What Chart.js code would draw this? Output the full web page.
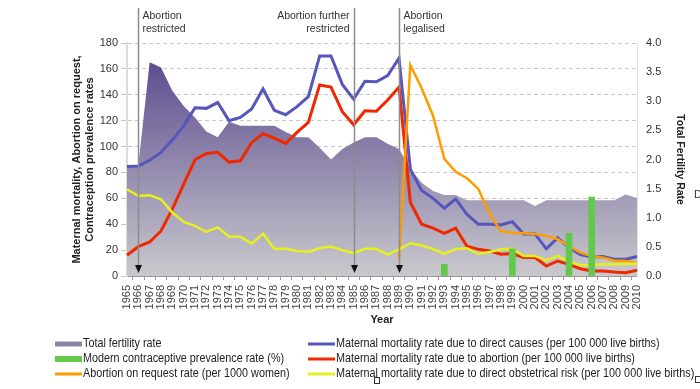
<!DOCTYPE html>
<html>
<head>
<meta charset="utf-8">
<script src="https://cdn.jsdelivr.net/npm/chart.js@4.4.0/dist/chart.umd.min.js"></script>
<style>
  body { margin: 0; background: #fff; }
  #wrap { width: 700px; height: 389px; }
</style>
</head>
<body>
<div id="wrap"><canvas id="chart" width="700" height="389"></canvas></div>
<script>
const years = ["1965","1966","1967","1968","1969","1970","1971","1972","1973","1974",
  "1975","1976","1977","1978","1979","1980","1981","1982","1983","1984",
  "1985","1986","1987","1988","1989","1990","1991","1992","1993","1994",
  "1995","1996","1997","1998","1999","2000","2001","2002","2003","2004",
  "2005","2006","2007","2008","2009","2010"];

// total fertility rate (right axis)
const fertilityRate = [1.88, 1.9, 3.67, 3.58, 3.18, 2.92, 2.72, 2.48, 2.38, 2.65,
  2.58, 2.58, 2.58, 2.58, 2.47, 2.38, 2.38, 2.2, 2.0, 2.18,
  2.29, 2.38, 2.38, 2.27, 2.18, 1.84, 1.6, 1.46, 1.39, 1.39,
  1.3, 1.3, 1.3, 1.3, 1.3, 1.3, 1.2, 1.3, 1.3, 1.3,
  1.3, 1.3, 1.3, 1.3, 1.4, 1.34];

const contraceptiveRate = [null, null, null, null, null, null, null, null, null, null,
  null, null, null, null, null, null, null, null, null, null,
  null, null, null, null, null, null, null, null, 9, null,
  null, null, null, null, 21, null, null, null, null, 33,
  null, 61, null, null, null, null];

const abortionRequestRate = [null, null, null, null, null, null, null, null, null, null,
  null, null, null, null, null, null, null, null, null, null,
  null, null, null, null, 13, 163, 145, 124, 90.5, 80.5,
  75.5, 67.3, 48, 34.5, 33.5, 33, 32.5, 31, 28.4, 23,
  18, 15.5, 14.2, 12, 11.6, 10.3];

const mmrDirect = [84.5, 85, 89.5, 95.5, 105, 116, 130, 129.5, 134, 120,
  122.5, 129, 144.5, 128, 124.6, 130.8, 138.5, 170, 170, 148,
  136.7, 150.5, 150, 154.8, 168.3, 82.6, 66, 60, 52.4, 59.5,
  47.5, 40, 40, 39.5, 42, 32.5, 32.5, 21, 29.5, 22,
  16.5, 14.7, 15, 13, 13, 15];

const mmrAbortion = [16, 22.7, 26.3, 34.8, 51.6, 71, 89.8, 94.7, 95.5, 88,
  89, 103, 110, 106.5, 102.4, 111, 118.7, 147.6, 146, 127,
  116.8, 127.7, 127.3, 136, 146, 57, 40, 37, 33, 37,
  23, 20.6, 19.3, 16.8, 17.3, 14.2, 14.2, 7.7, 11.6, 9,
  5.6, 3.9, 3.9, 3, 2.5, 4.4];

const mmrObstetric = [67, 61.8, 62.4, 59.3, 49, 41.8, 38.7, 34, 37.6, 30.5,
  30.4, 25, 32.7, 21, 21, 19.3, 18.8, 21.4, 22.7, 20,
  17.6, 21, 21, 16.5, 20.6, 25.3, 23.6, 20.8, 17.3, 20.8,
  21.5, 17, 18.6, 20.6, 21, 15.5, 15.5, 12.1, 15.5, 11,
  8.3, 8.3, 9, 9, 9.5, 9.5];

const events = [
  { year: "1966", lines: ["Abortion", "restricted"], align: "left" },
  { year: "1985", lines: ["Abortion further", "restricted"], align: "right" },
  { year: "1989", lines: ["Abortion", "legalised"], align: "left" },
];

// legend order: column 1 then column 2
const legendOrder = [
  "Total fertility rate",
  "Modern contraceptive prevalence rate (%)",
  "Abortion on request rate (per 1000 women)",
  "Maternal mortality rate due to direct causes (per 100 000 live births)",
  "Maternal mortality rate due to abortion (per 100 000 live births)",
  "Maternal mortality rate due to direct obstetrical risk (per 100 000 live births)",
];

const FONT = "'Liberation Sans', Arial, sans-serif";

const fertilityFill = (ctx) => {
  const area = ctx.chart.chartArea;
  if (!area) return "#9a96b0";
  const g = ctx.chart.ctx.createLinearGradient(0, area.top, 0, area.bottom);
  g.addColorStop(0, "#55428a");
  g.addColorStop(1, "#c9c9cd");
  return g;
};

// annotations, arrows and the two-column legend
const extras = {
  id: "extras",
  afterDatasetsDraw(chart) {
    const { ctx, scales, chartArea } = chart;
    ctx.save();
    events.forEach((ev) => {
      const x = Math.round(scales.x.getPixelForValue(years.indexOf(ev.year))) + 0.5;
      ctx.beginPath();
      ctx.moveTo(x, 8);
      ctx.lineTo(x, chartArea.bottom - 6);
      ctx.lineWidth = 1.5;
      ctx.strokeStyle = "#8c8c8c";
      ctx.stroke();

      ctx.beginPath();
      ctx.moveTo(x - 3.5, chartArea.bottom - 11);
      ctx.lineTo(x + 3.5, chartArea.bottom - 11);
      ctx.lineTo(x, chartArea.bottom - 3);
      ctx.closePath();
      ctx.fillStyle = "#111";
      ctx.fill();

      ctx.font = "10.5px " + FONT;
      ctx.fillStyle = "#333";
      ctx.textBaseline = "middle";
      ctx.textAlign = ev.align;
      const tx = ev.align === "left" ? x + 4 : x - 5;
      ev.lines.forEach((t, i) => ctx.fillText(t, tx, 16 + i * 13));
    });
    ctx.restore();
  },
  afterDraw(chart) {
    const { ctx } = chart;
    const colX = [55, 308];
    const rowY = [344, 359, 374];
    ctx.save();
    legendOrder.forEach((label, i) => {
      const ds = chart.data.datasets.find((d) => d.label === label);
      const x = colX[Math.floor(i / 3)];
      const y = rowY[i % 3];
      if (ds.type === "bar") {
        ctx.fillStyle = ds.backgroundColor;
        ctx.fillRect(x, y - 3, 27, 6);
      } else if (ds.fill) {
        ctx.fillStyle = "#8a86a8";
        ctx.fillRect(x, y - 2.5, 27, 5);
      } else {
        ctx.fillStyle = ds.borderColor;
        ctx.fillRect(x, y - 1.5, 27, 3);
      }
      ctx.save();
      ctx.translate(x + 28, y);
      ctx.scale(0.9, 1);
      ctx.font = "12px " + FONT;
      ctx.fillStyle = "#222";
      ctx.textBaseline = "middle";
      ctx.fillText(label, 0, 0);
      ctx.restore();
    });
    // stray marks at the edge of the original picture
    ctx.font = "11px " + FONT;
    ctx.fillStyle = "#333";
    ctx.textBaseline = "middle";
    ctx.fillText("D", 694, 195);
    ctx.strokeStyle = "#333";
    ctx.lineWidth = 1;
    ctx.strokeRect(374.5, 377.5, 5, 6);
    ctx.strokeRect(695.5, 376.5, 5, 6);
    ctx.restore();
  },
};

new Chart(document.getElementById("chart"), {
  type: "line",
  data: {
    labels: years,
    datasets: [
      {
        type: "bar",
        label: "Modern contraceptive prevalence rate (%)",
        data: contraceptiveRate,
        backgroundColor: "#62c94a",
        barThickness: 6,
        yAxisID: "y",
        order: 0,
      },
      {
        label: "Maternal mortality rate due to direct obstetrical risk (per 100 000 live births)",
        data: mmrObstetric,
        borderColor: "#e6f01e",
        borderWidth: 2.5,
        yAxisID: "y",
        order: 1,
      },
      {
        label: "Abortion on request rate (per 1000 women)",
        data: abortionRequestRate,
        borderColor: "#ff9c00",
        borderWidth: 2.5,
        yAxisID: "y",
        order: 2,
      },
      {
        label: "Maternal mortality rate due to abortion (per 100 000 live births)",
        data: mmrAbortion,
        borderColor: "#f02800",
        borderWidth: 3,
        yAxisID: "y",
        order: 3,
      },
      {
        label: "Maternal mortality rate due to direct causes (per 100 000 live births)",
        data: mmrDirect,
        borderColor: "#5656bb",
        borderWidth: 3,
        yAxisID: "y",
        order: 4,
      },
      {
        label: "Total fertility rate",
        data: fertilityRate,
        borderWidth: 0,
        borderColor: "rgba(0,0,0,0)",
        backgroundColor: fertilityFill,
        fill: "origin",
        yAxisID: "y2",
        order: 5,
      },
    ],
  },
  options: {
    responsive: false,
    animation: false,
    layout: { padding: { left: 70, right: 12, top: 43, bottom: 59 } },
    elements: {
      point: { radius: 0 },
      line: { tension: 0, borderJoinStyle: "miter" },
    },
    plugins: {
      legend: { display: false },
      tooltip: { enabled: false },
    },
    scales: {
      x: {
        offset: false,
        grid: { drawOnChartArea: false, drawTicks: true, tickLength: 4, color: "#999" },
        border: { display: true, color: "#999" },
        ticks: {
          autoSkip: false,
          minRotation: 90,
          maxRotation: 90,
          padding: 5,
          color: "#444",
          font: { size: 11, family: FONT },
        },
        title: {
          display: true,
          text: "Year",
          color: "#222",
          font: { size: 11, weight: "bold", family: FONT },
          padding: { top: 0, bottom: 3 },
        },
        afterFit: (s) => { s.height = 54; },
      },
      y: {
        position: "left",
        min: 0,
        max: 180,
        ticks: { stepSize: 20, padding: 3, color: "#333", font: { size: 11, family: FONT } },
        grid: { color: "#c8c8c8", tickLength: 6 },
        border: { display: true, color: "#dcdcdc", width: 2, dash: [4, 3] },
        title: {
          display: true,
          text: ["Maternal mortality, Abortion on request,", "Contraception prevalence rates"],
          color: "#222",
          font: { size: 11, weight: "bold", family: FONT },
          padding: { top: 0, bottom: 2 },
        },
        afterFit: (s) => { s.width = 57; },
      },
      y2: {
        position: "right",
        min: 0,
        max: 4,
        ticks: {
          stepSize: 0.5,
          padding: 9,
          color: "#333",
          font: { size: 11, family: FONT },
          callback: (v) => v.toFixed(1),
        },
        grid: { drawOnChartArea: false, drawTicks: false },
        border: { display: true, color: "#e2e2e2" },
        title: {
          display: true,
          text: "Total Fertility Rate",
          color: "#222",
          font: { size: 10.5, weight: "bold", family: FONT },
          padding: { top: 2, bottom: 0 },
        },
        afterFit: (s) => { s.width = 51; },
      },
    },
  },
  plugins: [extras],
});
</script>
</body>
</html>
